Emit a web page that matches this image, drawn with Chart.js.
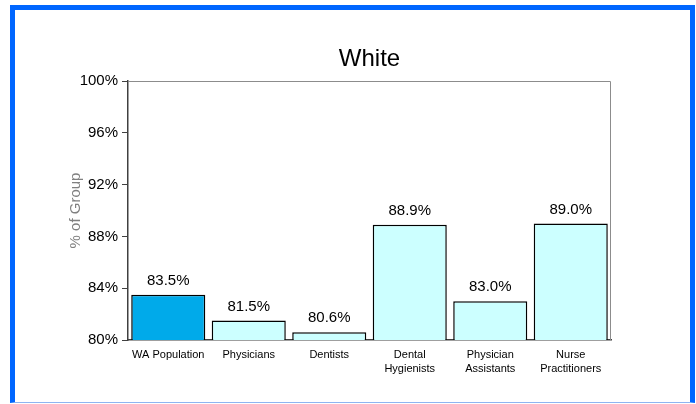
<!DOCTYPE html>
<html>
<head>
<meta charset="utf-8">
<title>White</title>
<script src="https://cdn.jsdelivr.net/npm/chart.js@4.4.1/dist/chart.umd.min.js"></script>
<style>
  html, body { margin: 0; padding: 0; background: #fff; overflow: hidden; }
  #frame {
    position: absolute; left: 10px; top: 5px; width: 675px; height: 392px;
    border-left: 5px solid #0066ff; border-top: 5px solid #0066ff; border-right: 5px solid #0066ff;
    border-bottom: 1px solid #8fb4f0;
  }
  #wrap { position: absolute; left: 0; top: 0; width: 696px; height: 404px; }
</style>
</head>
<body>
<div id="frame"></div>
<div id="wrap"><canvas id="whiteChart" width="696" height="404"></canvas></div>
<script>
// valores
var categories = [['WA Population'], ['Physicians'], ['Dentists'], ['Dental', 'Hygienists'], ['Physician', 'Assistants'], ['Nurse', 'Practitioners']];
var whitePct = [83.5, 81.5, 80.6, 88.9, 83.0, 89.0];
var yTicks = [80, 84, 88, 92, 96, 100];

var barColors = ['#00aaea', '#ccffff', '#ccffff', '#ccffff', '#ccffff', '#ccffff'];

Chart.defaults.font.family = "'Liberation Sans', Arial, sans-serif";
Chart.defaults.color = '#000';

// borde gris arriba y a la derecha del area del grafico
var plotBorder = {
    id: 'plotBorder',
    beforeDatasetsDraw: function(chart) {
        var a = chart.chartArea, ctx = chart.ctx;
        ctx.save();
        ctx.strokeStyle = '#8c8c8c';
        ctx.lineWidth = 1;
        ctx.beginPath();
        ctx.moveTo(a.left, a.top + 0.5);
        ctx.lineTo(a.right - 0.5, a.top + 0.5);
        ctx.lineTo(a.right - 0.5, a.bottom);
        ctx.stroke();
        ctx.restore();
    }
};

// etiquetas de valor encima de cada barra
var valueLabels = {
    id: 'valueLabels',
    afterDatasetsDraw: function(chart) {
        var ctx = chart.ctx;
        var meta = chart.getDatasetMeta(0);
        ctx.save();
        ctx.font = "15px 'Liberation Sans', Arial, sans-serif";
        ctx.fillStyle = '#000';
        ctx.textAlign = 'center';
        ctx.textBaseline = 'middle';
        meta.data.forEach(function(bar, i) {
            ctx.fillText(whitePct[i].toFixed(1) + '%', bar.x, bar.y - 14);
        });
        ctx.restore();
    }
};

var ctx = document.getElementById('whiteChart').getContext('2d');
new Chart(ctx, {
    type: 'bar',
    data: {
        labels: categories,
        datasets: [{
            label: 'White',
            data: whitePct,
            backgroundColor: barColors,
            borderColor: '#000',
            borderWidth: 1.5,
            borderSkipped: false,
            barPercentage: 0.92,
            categoryPercentage: 1
        }]
    },
    options: {
        responsive: false,
        animation: false,
        devicePixelRatio: 1,
        layout: { padding: { left: 0, right: 85, top: 0, bottom: 0 } },
        plugins: {
            legend: { display: false },
            tooltip: { enabled: false }
        },
        scales: {
            // eje superior solo para centrar el titulo sobre el area del grafico
            xTop: {
                type: 'category',
                position: 'top',
                grid: { display: false, drawTicks: false },
                border: { display: false },
                ticks: { display: false },
                title: {
                    display: true,
                    text: 'White',
                    color: '#000',
                    font: { size: 24 },
                    padding: { top: 45, bottom: 7 }
                },
                afterFit: function(scale) { scale.height = 81; }
            },
            x: {
                grid: { display: false, drawTicks: false },
                border: { display: true, color: '#404040', width: 1.5 },
                ticks: {
                    font: { size: 11, lineHeight: 1.27 },
                    color: '#000',
                    padding: 8,
                    maxRotation: 0,
                    autoSkip: false
                },
                afterFit: function(scale) { scale.height = 64; }
            },
            y: {
                min: 80,
                max: 100,
                afterBuildTicks: function(scale) {
                    scale.ticks = yTicks.map(function(v) { return { value: v }; });
                },
                grid: { drawOnChartArea: false, drawTicks: true, tickLength: 6, color: '#404040' },
                border: { display: true, color: '#404040', width: 1.5 },
                ticks: {
                    font: { size: 15 },
                    color: '#000',
                    padding: 4,
                    callback: function(v) { return v + '%'; }
                },
                title: {
                    display: true,
                    text: '% of Group',
                    color: '#808080',
                    font: { size: 15 },
                    padding: { top: 67, bottom: 0 }
                },
                afterFit: function(scale) { scale.width = 128; }
            }
        }
    },
    plugins: [plotBorder, valueLabels]
});
</script>
</body>
</html>
